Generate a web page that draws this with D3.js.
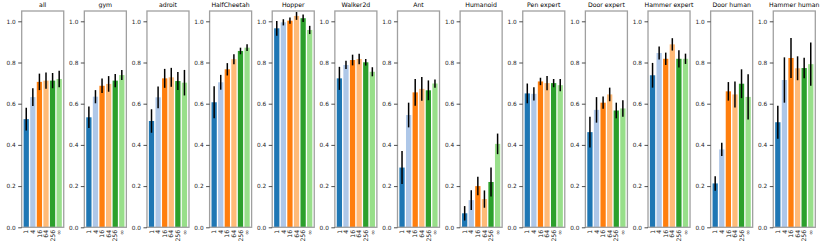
<!DOCTYPE html>
<html>
<head>
<meta charset="utf-8">
<script src="https://cdn.jsdelivr.net/npm/d3@7"></script>
<style>
  body { margin: 0; background: #fff; }
  svg { display: block; font-family: "DejaVu Sans", sans-serif; }
</style>
</head>
<body>
<div id="chart"></div>
<script>
// Panels, one per task group.
var panels = ["all", "gym", "adroit", "HalfCheetah", "Hopper", "Walker2d", "Ant",
              "Humanoid", "Pen expert", "Door expert", "Hammer expert",
              "Door human", "Hammer human"];

// Bar labels (x ticks) inside every panel.
var sizes = ["1", "4", "16", "64", "256", "\u221e"];

// Mean score per panel (rows follow 'panels', columns follow 'sizes').
var means = [
  [0.525, 0.632, 0.706, 0.712, 0.712, 0.720],
  [0.534, 0.634, 0.687, 0.696, 0.712, 0.739],
  [0.516, 0.631, 0.723, 0.728, 0.710, 0.702],
  [0.607, 0.704, 0.767, 0.816, 0.856, 0.872],
  [0.966, 0.995, 1.003, 1.026, 1.015, 0.958],
  [0.723, 0.788, 0.812, 0.817, 0.801, 0.755],
  [0.290, 0.545, 0.655, 0.672, 0.665, 0.698],
  [0.068, 0.132, 0.200, 0.137, 0.220, 0.405],
  [0.650, 0.648, 0.708, 0.700, 0.700, 0.690],
  [0.462, 0.570, 0.605, 0.645, 0.567, 0.577],
  [0.738, 0.846, 0.818, 0.888, 0.818, 0.818],
  [0.213, 0.378, 0.660, 0.645, 0.697, 0.633],
  [0.510, 0.715, 0.822, 0.772, 0.773, 0.792]
];

// Half length of the error bars.
var errors = [
  [0.055, 0.043, 0.040, 0.040, 0.037, 0.040],
  [0.052, 0.032, 0.035, 0.038, 0.032, 0.024],
  [0.057, 0.053, 0.046, 0.046, 0.044, 0.062],
  [0.078, 0.036, 0.030, 0.024, 0.016, 0.016],
  [0.036, 0.015, 0.015, 0.019, 0.018, 0.020],
  [0.056, 0.020, 0.026, 0.026, 0.016, 0.022],
  [0.080, 0.060, 0.065, 0.058, 0.048, 0.020],
  [0.035, 0.048, 0.045, 0.042, 0.070, 0.050],
  [0.048, 0.032, 0.018, 0.035, 0.020, 0.030],
  [0.075, 0.062, 0.030, 0.033, 0.038, 0.040],
  [0.060, 0.032, 0.030, 0.030, 0.042, 0.025],
  [0.035, 0.032, 0.045, 0.063, 0.070, 0.110],
  [0.080, 0.110, 0.097, 0.058, 0.050, 0.105]
];

var yTicks = [0, 0.2, 0.4, 0.6, 0.8, 1.0];
var colors = ["#1f77b4", "#aec7e8", "#ff7f0e", "#ffbb78", "#2ca02c", "#98df8a"];

var W = 830, H = 245;
// Note: 'top' is reserved on window, so use other names.
var plotTop = 11, plotBottom = 227.3;

var svg = d3.select("#chart").append("svg")
    .attr("width", W)
    .attr("height", H);

// Panel placement.
var px = d3.scaleBand()
    .domain(panels)
    .range([21.7, 815.3])
    .paddingInner(0.329)
    .paddingOuter(0);

var y = d3.scaleLinear().domain([0, 1.05]).range([plotBottom, plotTop]);

panels.forEach(function(name, p) {
    var g = svg.append("g")
        .attr("transform", "translate(" + px(name) + ",0)");
    var w = px.bandwidth();

    // x inside a panel, matplotlib style margins around the bars.
    var x = d3.scaleLinear().domain([-0.69, 5.69]).range([0, w]);

    var rows = sizes.map(function(s, i) {
        return {i: i, v: means[p][i], e: errors[p][i]};
    });

    g.selectAll("rect.bar")
        .data(rows).enter().append("rect")
        .attr("class", "bar")
        .attr("x", function(d) { return x(d.i - 0.4); })
        .attr("width", function(d) { return x(d.i + 0.4) - x(d.i - 0.4); })
        .attr("y", function(d) { return y(d.v); })
        .attr("height", function(d) { return y(0) - y(d.v); })
        .attr("fill", function(d) { return colors[d.i]; });

    g.selectAll("line.err")
        .data(rows).enter().append("line")
        .attr("class", "err")
        .attr("x1", function(d) { return x(d.i); })
        .attr("x2", function(d) { return x(d.i); })
        .attr("y1", function(d) { return y(d.v - d.e); })
        .attr("y2", function(d) { return y(d.v + d.e); })
        .attr("stroke", "#000")
        .attr("stroke-width", 1.5);

    // Frame.
    g.append("rect")
        .attr("x", 0).attr("y", plotTop)
        .attr("width", w).attr("height", plotBottom - plotTop)
        .attr("fill", "none")
        .attr("stroke", "#a0a0a0")
        .attr("stroke-width", 1.3);

    // y axis.
    var ya = g.append("g")
        .call(d3.axisLeft(y).tickValues(yTicks).tickFormat(d3.format(".1f"))
              .tickSize(3.5).tickPadding(2.5));
    ya.select(".domain").remove();
    ya.selectAll("line").attr("stroke", "#222").attr("stroke-width", 0.8);
    ya.selectAll("text").attr("font-size", 5.8).attr("fill", "#222")
        .attr("font-family", "DejaVu Sans");

    // x tick labels, rotated.
    g.selectAll("text.xl")
        .data(rows).enter().append("text")
        .attr("class", "xl")
        .attr("transform", function(d) {
            return "translate(" + x(d.i) + "," + (plotBottom + 2.5) + ") rotate(-90)";
        })
        .attr("text-anchor", "end")
        .attr("dy", "0.35em")
        .attr("font-size", 6.2)
        .attr("fill", "#222")
        .text(function(d) { return sizes[d.i]; });

    // Title.
    g.append("text")
        .attr("x", w / 2)
        .attr("y", plotTop - 4)
        .attr("text-anchor", "middle")
        .attr("font-size", 6.2)
        .attr("fill", "#000")
        .text(name);
});
</script>
</body>
</html>
